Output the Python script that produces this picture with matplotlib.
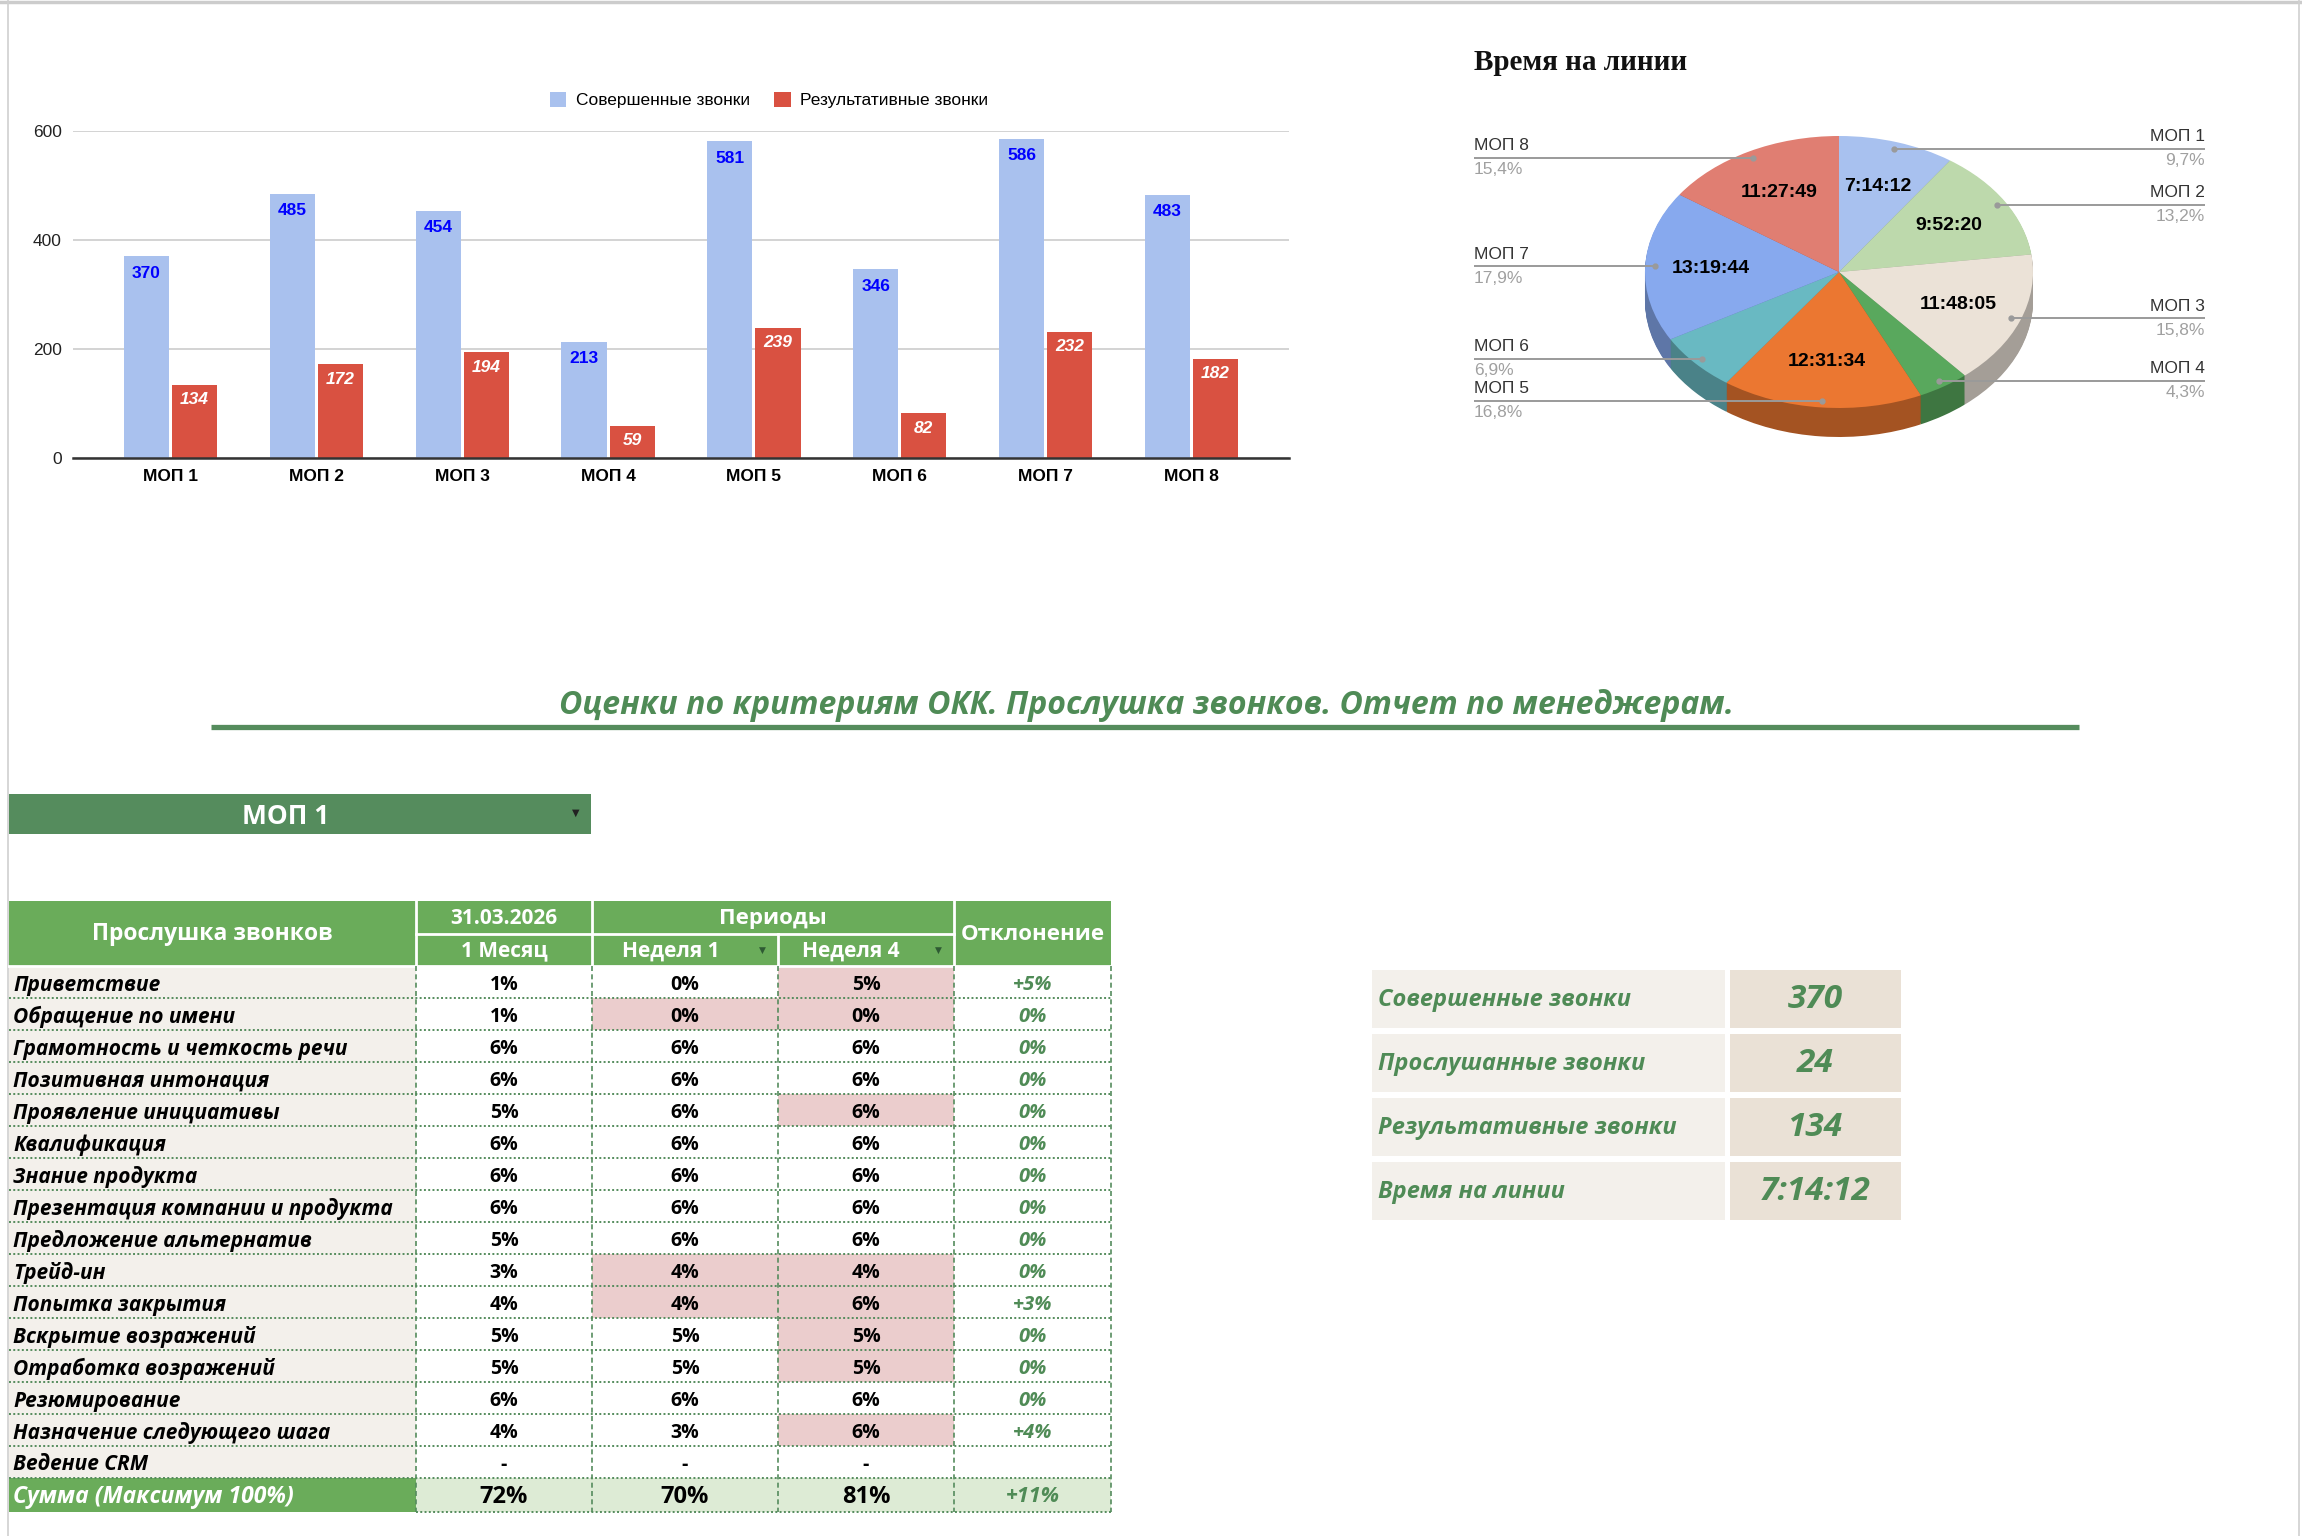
import numpy as np
import matplotlib
matplotlib.use("Agg")
import matplotlib.pyplot as plt
from matplotlib.patches import Rectangle
from matplotlib.colors import to_rgb

# --- Canvas (pixels) ---
W, H = 2302, 1536
DPI = 100

# --- Data ---
managers = ["МОП 1", "МОП 2", "МОП 3", "МОП 4", "МОП 5", "МОП 6", "МОП 7", "МОП 8"]
calls_made = [370, 485, 454, 213, 581, 346, 586, 483]
calls_won = [134, 172, 194, 59, 239, 82, 232, 182]
line_time = ["7:14:12", "9:52:20", "11:48:05", "3:12:26",
             "12:31:34", "5:08:50", "13:19:44", "11:27:49"]
calls_heard = 24

criteria = ["Приветствие", "Обращение по имени", "Грамотность и четкость речи",
            "Позитивная интонация", "Проявление инициативы", "Квалификация",
            "Знание продукта", "Презентация компании и продукта",
            "Предложение альтернатив", "Трейд-ин", "Попытка закрытия",
            "Вскрытие возражений", "Отработка возражений", "Резюмирование",
            "Назначение следующего шага", "Ведение CRM"]
month = ["1%", "1%", "6%", "6%", "5%", "6%", "6%", "6%", "5%", "3%", "4%", "5%", "5%", "6%", "4%", "-"]
week1 = ["0%", "0%", "6%", "6%", "6%", "6%", "6%", "6%", "6%", "4%", "4%", "5%", "5%", "6%", "3%", "-"]
week4 = ["5%", "0%", "6%", "6%", "6%", "6%", "6%", "6%", "6%", "4%", "6%", "5%", "5%", "6%", "6%", "-"]
deviation = ["+5%", "0%", "0%", "0%", "0%", "0%", "0%", "0%", "0%", "0%", "+3%", "0%", "0%", "0%", "+4%", ""]
totals = ["72%", "70%", "81%", "+11%"]
flag_week1 = [1, 9, 10]
flag_week4 = [0, 1, 4, 9, 10, 11, 12, 14]

# --- Colours ---
BLUE = "#A9C1EE"
RED = "#D95141"
GREEN_HDR = "#6AAC5A"
GREEN_DARK = "#558C5D"
GREEN_TXT = "#4F8B56"
BEIGE = "#F3F0EB"
BEIGE2 = "#EAE1D6"
PINK = "#EBCDCD"
SUM_BG = "#DDEBD5"
pie_colors = ["#A8C1EF", "#BDD9AC", "#EBE2D7", "#59A85D",
              "#EB7731", "#69B9C2", "#87A9EE", "#E07E72"]
side_colors = [tuple(c * 0.7 for c in to_rgb(col)) for col in pie_colors]

TF = "Open Sans"      # table font
CF = "Liberation Sans"  # chart font


def px_box(x0, y0, x1, y1):
    return [x0 / W, 1 - y1 / H, (x1 - x0) / W, (y1 - y0) / H]


def to_sec(t):
    h, m, s = map(int, t.split(":"))
    return h * 3600 + m * 60 + s


fig = plt.figure(figsize=(W / DPI, H / DPI), dpi=DPI)
fig.patch.set_facecolor("white")

# --- Bar chart ---
ax = fig.add_axes(px_box(73, 131, 1289, 458))
x = np.arange(len(managers))
b1 = ax.bar(x - 0.165, calls_made, 0.31, color=BLUE, label="Совершенные звонки")
b2 = ax.bar(x + 0.165, calls_won, 0.31, color=RED, label="Результативные звонки")
ax.set_xlim(-0.668, 7.668)
ax.set_ylim(0, 600)
ax.set_yticks([0, 200, 400, 600])
ax.set_xticks(x)
ax.set_xticklabels(managers, fontfamily=CF, fontweight="bold", fontsize=12.5)
for lab in ax.get_yticklabels():
    lab.set_fontfamily(CF)
    lab.set_fontsize(12.5)
    lab.set_color("#222222")
ax.tick_params(axis="both", length=0)
ax.tick_params(axis="x", pad=8)
ax.tick_params(axis="y", pad=8)
ax.grid(axis="y", color="#D3D3D3", lw=1.4)
ax.set_axisbelow(True)
for s in ["top", "right", "left"]:
    ax.spines[s].set_visible(False)
ax.spines["bottom"].set_color("#333333")
ax.spines["bottom"].set_linewidth(1.8)
for bar, v in zip(b1, calls_made):
    ax.annotate(str(v), (bar.get_x() + bar.get_width() / 2, v), xytext=(0, -17),
                textcoords="offset pixels", ha="center", va="center",
                color="#0000FF", fontweight="bold", fontsize=12.5, fontfamily=CF)
for bar, v in zip(b2, calls_won):
    ax.annotate(str(v), (bar.get_x() + bar.get_width() / 2, v), xytext=(0, -15),
                textcoords="offset pixels", ha="center", va="center",
                color="white", fontweight="bold", fontstyle="italic",
                fontsize=12.5, fontfamily=CF)
ax.legend(loc="center", bbox_to_anchor=(769 / W, 1 - 100 / H),
          bbox_transform=fig.transFigure, ncol=2, frameon=False,
          handlelength=0.95, handleheight=0.95, columnspacing=1.4,
          handletextpad=0.55, prop={"family": CF, "size": 12.5})

# --- Pie chart (pseudo 3D) ---
cx, cy, rx, ry, depth = 1839, 272, 194, 136, 29
axp = fig.add_axes(px_box(cx - 300, cy - 220, cx + 300, cy + 220))
secs = [to_sec(t) for t in line_time]
n_layers = 30
for k in range(n_layers, 0, -1):
    axp.pie(secs, colors=side_colors, startangle=90, counterclock=False,
            center=(0, -depth / ry * k / n_layers), wedgeprops=dict(linewidth=0))
wedges, _ = axp.pie(secs, colors=pie_colors, startangle=90, counterclock=False,
                    wedgeprops=dict(linewidth=0))
axp.set_aspect("auto")
axp.set_xlim(-300 / rx, 300 / rx)
axp.set_ylim(-220 / ry, 220 / ry)
axp.axis("off")

total = sum(secs)
for w, t, s in zip(wedges, line_time, secs):
    a = np.deg2rad((w.theta1 + w.theta2) / 2)
    if s / total > 0.08:
        axp.text(0.66 * np.cos(a), 0.66 * np.sin(a), t, ha="center", va="center",
                 fontfamily=CF, fontweight="bold", fontsize=14, color="black")

fig.text(1474 / W, 1 - 63 / H, "Время на линии", fontfamily="Liberation Serif",
         fontweight="bold", fontsize=21, ha="left", va="center", color="#111111")

# --- Overlay in pixel coordinates ---
ov = fig.add_axes([0, 0, 1, 1])
ov.set_xlim(0, W)
ov.set_ylim(H, 0)
ov.axis("off")

# pie leader lines
for w, name, s in zip(wedges, managers, secs):
    a = np.deg2rad((w.theta1 + w.theta2) / 2)
    dx = cx + 0.95 * np.cos(a) * rx
    dy = cy - 0.95 * np.sin(a) * ry
    pct = f"{100 * s / total:.1f}".replace(".", ",") + "%"
    if np.cos(a) >= 0:
        tx, ha = 2205, "right"
    else:
        tx, ha = 1474, "left"
    ov.plot([dx, tx], [dy, dy], color="#9A9A9A", lw=1.4, solid_capstyle="butt")
    ov.plot(dx, dy, "o", color="#9A9A9A", ms=3.5)
    ov.text(tx, dy - 12, name, ha=ha, va="center", fontfamily=CF,
            fontsize=12.5, color="#333333")
    ov.text(tx, dy + 12, pct, ha=ha, va="center", fontfamily=CF,
            fontsize=12.5, color="#A0A0A0")

# sheet edges
ov.plot([0, W], [1.5, 1.5], color="#CCCCCC", lw=2.5)
ov.plot([8, 8], [0, H], color="#D0D0D0", lw=1.2)
ov.plot([2299, 2299], [0, H], color="#D0D0D0", lw=1.2)

# section title
ov.text(1146, 706, "Оценки по критериям ОКК. Прослушка звонков. Отчет по менеджерам.",
        ha="center", va="center", fontfamily=TF, fontweight="bold",
        fontstyle="italic", fontsize=23, color=GREEN_TXT)
ov.plot([211, 2079], [727, 727], color=GREEN_DARK, lw=3.8, solid_capstyle="butt")

# manager selector
ov.add_patch(Rectangle((9, 794), 582, 40, color=GREEN_DARK, lw=0))
ov.text(286, 816, managers[0], ha="center", va="center", fontfamily=TF,
        fontweight="bold", fontsize=19, color="white")
ov.text(576, 813, "▼", ha="center", va="center", fontfamily="DejaVu Sans",
        fontsize=7, color="#222222")

# table
cols = [9, 416, 592, 778, 954, 1111]
top, mid, hb = 901, 934, 966
rh = 32
ov.add_patch(Rectangle((cols[0], top), cols[-1] - cols[0], hb - top,
                       color=GREEN_HDR, lw=0))
for xv in [cols[1], cols[2], cols[4]]:
    ov.plot([xv, xv], [top, hb], color="white", lw=2)
ov.plot([cols[3], cols[3]], [mid, hb], color="white", lw=2)
ov.plot([cols[1], cols[4]], [mid, mid], color="white", lw=2)
ov.plot([cols[0], cols[-1]], [hb, hb], color="white", lw=2)
hdr = dict(fontfamily=TF, fontweight="bold", color="white", va="center")
ov.text((cols[0] + cols[1]) / 2, (top + hb) / 2 + 1, "Прослушка звонков", ha="center", fontsize=16.5, **hdr)
ov.text((cols[1] + cols[2]) / 2, (top + mid) / 2 + 1, "31.03.2026", ha="center", fontsize=15, **hdr)
ov.text((cols[1] + cols[2]) / 2, (mid + hb) / 2 + 1, "1 Месяц", ha="center", fontsize=15, **hdr)
ov.text((cols[2] + cols[4]) / 2, (top + mid) / 2 + 1, "Периоды", ha="center", fontsize=16, **hdr)
ov.text(671, (mid + hb) / 2 + 1, "Неделя 1", ha="center", fontsize=15, **hdr)
ov.text(851, (mid + hb) / 2 + 1, "Неделя 4", ha="center", fontsize=15, **hdr)
ov.text((cols[4] + cols[5]) / 2, (top + hb) / 2 + 1, "Отклонение", ha="center", fontsize=16, **hdr)
for tx in [762, 938]:
    ov.text(tx, (mid + hb) / 2, "▼", ha="center", va="center",
            fontfamily="DejaVu Sans", fontsize=6.5, color="#2E5A33")

for i, crit in enumerate(criteria):
    y0 = hb + i * rh
    yc = y0 + rh / 2 + 3
    ov.add_patch(Rectangle((cols[0], y0), cols[1] - cols[0], rh, color=BEIGE, lw=0))
    if i in flag_week1:
        ov.add_patch(Rectangle((cols[2], y0), cols[3] - cols[2], rh, color=PINK, lw=0))
    if i in flag_week4:
        ov.add_patch(Rectangle((cols[3], y0), cols[4] - cols[3], rh, color=PINK, lw=0))
    ov.text(cols[0] + 4, yc, crit, ha="left", va="center", fontfamily=TF,
            fontweight="bold", fontstyle="italic", fontsize=15, color="black")
    for j, v in enumerate([month[i], week1[i], week4[i]]):
        ov.text((cols[j + 1] + cols[j + 2]) / 2, yc, v, ha="center", va="center",
                fontfamily=TF, fontweight="bold", fontsize=14, color="black")
    ov.text((cols[4] + cols[5]) / 2, yc, deviation[i], ha="center", va="center",
            fontfamily=TF, fontweight="bold", fontstyle="italic", fontsize=14.5,
            color=GREEN_TXT)

# sum row
ys = hb + len(criteria) * rh
sh = 34
ov.add_patch(Rectangle((cols[0], ys), cols[1] - cols[0], sh, color=GREEN_HDR, lw=0))
ov.add_patch(Rectangle((cols[1], ys), cols[-1] - cols[1], sh, color=SUM_BG, lw=0))
ov.text(cols[0] + 4, ys + sh / 2 + 2, "Сумма (Максимум 100%)", ha="left", va="center",
        fontfamily=TF, fontweight="bold", fontstyle="italic", fontsize=16.5, color="white")
for j, v in enumerate(totals):
    ov.text((cols[j + 1] + cols[j + 2]) / 2, ys + sh / 2 + 2, v, ha="center", va="center",
            fontfamily=TF, fontweight="bold", fontsize=17 if j < 3 else 15.5,
            fontstyle="normal" if j < 3 else "italic",
            color="black" if j < 3 else GREEN_TXT)

# grid of dotted borders
for i in range(1, len(criteria) + 1):
    yl = hb + i * rh
    ov.plot([cols[0], cols[-1]], [yl, yl], color=GREEN_DARK, lw=1.4, ls=(0, (1, 1.2)))
ov.plot([cols[1], cols[-1]], [ys + sh, ys + sh], color=GREEN_DARK, lw=1.4, ls=(0, (1, 1.2)))
for xv in cols[1:]:
    ov.plot([xv, xv], [hb, ys + sh], color=GREEN_DARK, lw=1.2, ls=(0, (3, 2)))

# KPI block
kpi_labels = ["Совершенные звонки", "Прослушанные звонки", "Результативные звонки", "Время на линии"]
kpi_values = [str(calls_made[0]), str(calls_heard), str(calls_won[0]), line_time[0]]
for k, (lab, val) in enumerate(zip(kpi_labels, kpi_values)):
    y0 = 970 + k * 64
    ov.add_patch(Rectangle((1372, y0), 353, 58, color=BEIGE, lw=0))
    ov.add_patch(Rectangle((1730, y0), 171, 58, color=BEIGE2, lw=0))
    ov.text(1378, y0 + 30, lab, ha="left", va="center", fontfamily=TF,
            fontweight="bold", fontstyle="italic", fontsize=17, color=GREEN_TXT)
    ov.text(1815, y0 + 30, val, ha="center", va="center", fontfamily=TF,
            fontweight="bold", fontstyle="italic", fontsize=24, color=GREEN_TXT)

fig.savefig("out.png", dpi=DPI)
